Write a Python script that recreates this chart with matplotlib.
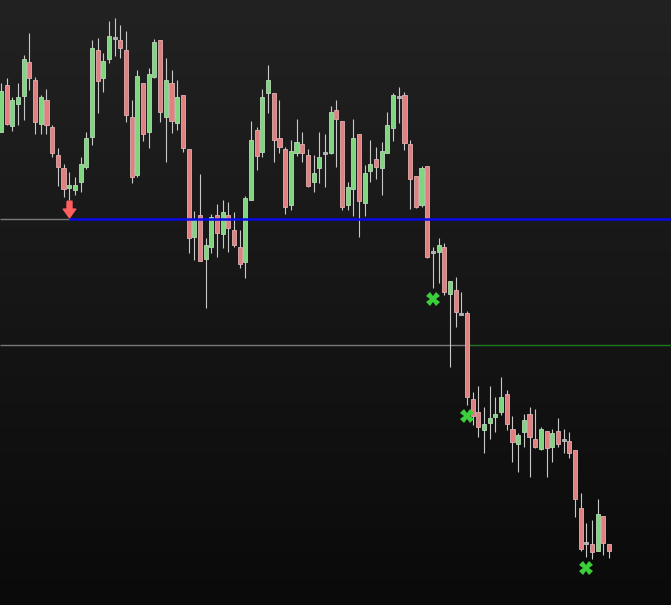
import numpy as np
import matplotlib
matplotlib.use("Agg")
import matplotlib.pyplot as plt

# Velas (open, high, low, close)
opens = [468, 515, 474, 496, 504, 538, 520, 476, 500, 473, 445, 432, 412, 410, 418, 433, 463, 550, 522, 541,
         562, 560, 550, 483, 425, 517, 468, 523, 560, 483, 517, 477, 505, 451, 363, 385, 341, 353, 385, 366,
         385, 370, 353, 338, 400, 470, 448, 507, 507, 462, 451, 395, 447, 456, 445, 418, 432, 447, 447, 490,
         479, 395, 411, 466, 397, 429, 441, 432, 447, 472, 503, 505, 456, 424, 395, 434, 348, 348, 353, 306,
         310, 286, 287, 201, 188, 170, 177, 183, 188, 206, 171, 156, 168, 186, 161, 151, 169, 153, 169, 160,
         159, 150, 92, 57, 56, 49, 84, 56]
highs = [517, 522, 503, 517, 545, 567, 523, 505, 511, 475, 452, 436, 428, 423, 443, 468, 560, 562, 547, 579,
         582, 575, 569, 500, 530, 517, 532, 561, 560, 542, 530, 520, 505, 451, 389, 426, 362, 386, 396, 400,
         398, 388, 370, 404, 479, 473, 511, 535, 507, 500, 453, 460, 481, 468, 451, 445, 468, 466, 494, 500,
         479, 418, 481, 466, 435, 460, 453, 458, 488, 507, 513, 508, 460, 424, 434, 434, 353, 362, 357, 319,
         323, 308, 289, 208, 214, 193, 214, 203, 223, 210, 184, 167, 186, 193, 191, 173, 169, 171, 182, 171,
         168, 150, 107, 77, 80, 101, 84, 56]
lows = [468, 475, 469, 475, 480, 510, 466, 466, 466, 443, 414, 403, 400, 405, 408, 431, 455, 487, 508, 537,
        544, 542, 478, 417, 423, 459, 452, 522, 478, 438, 467, 470, 448, 347, 340, 339, 292, 347, 343, 352,
        348, 353, 332, 322, 400, 430, 443, 487, 438, 447, 386, 390, 444, 438, 413, 408, 417, 413, 446, 433,
        390, 390, 384, 363, 384, 418, 421, 405, 447, 459, 477, 450, 391, 392, 393, 342, 312, 317, 305, 233,
        273, 286, 195, 175, 163, 147, 161, 168, 185, 170, 138, 128, 153, 123, 152, 150, 123, 138, 153, 147,
        142, 83, 49, 43, 41, 49, 45, 42]
closes = [509, 476, 500, 503, 541, 522, 478, 503, 475, 447, 433, 411, 415, 415, 436, 462, 552, 519, 539, 564,
          562, 552, 485, 423, 524, 466, 526, 558, 488, 520, 479, 503, 452, 362, 380, 339, 355, 383, 367, 388,
          372, 355, 336, 402, 460, 444, 503, 520, 460, 453, 393, 449, 458, 447, 414, 427, 443, 447, 488, 481,
          393, 413, 462, 399, 427, 436, 433, 449, 475, 505, 503, 457, 421, 393, 432, 343, 348, 355, 308, 319,
          288, 286, 203, 184, 173, 176, 182, 186, 203, 176, 158, 165, 180, 163, 153, 171, 152, 167, 156, 160,
          147, 101, 51, 57, 48, 86, 57, 49]

# niveis e sinais
level_blue = 381
level_green = 255
blue_start = 12
green_start = 82
arrow_idx = [12]
arrow_price = [391]
cross_idx = [76, 82, 103]
cross_price = [301, 184, 32]

o = np.array(opens)
h = np.array(highs)
l = np.array(lows)
c = np.array(closes)
x = np.arange(len(o))

fig = plt.figure(figsize=(6.71, 6.05), dpi=100)
ax = fig.add_axes([0, 0, 1, 1])
xmin, xmax = -0.18, 117.9
ymin, ymax = -5, 600
ax.set_xlim(xmin, xmax)
ax.set_ylim(ymin, ymax)
ax.axis("off")

# fundo em gradiente
grad = np.linspace(0, 1, 256).reshape(-1, 1)
ax.imshow(grad, extent=(xmin, xmax, ymin, ymax), aspect="auto", origin="lower",
          cmap=matplotlib.colors.LinearSegmentedColormap.from_list("bg", ["#0a0a0a", "#222222"]),
          zorder=0)

# linhas horizontais
ax.hlines(level_blue, xmin, blue_start, color="#7a7a7a", lw=1, zorder=1)
ax.hlines(level_blue, blue_start, xmax, color="#0a0aee", lw=1.8, zorder=4)
ax.hlines(level_green, xmin, green_start - 0.3, color="#7a7a7a", lw=1, zorder=1)
ax.hlines(level_green, green_start - 0.3, xmax, color="#1f7a1f", lw=1, zorder=1)

up = c > o
down = c < o
doji = c == o

ax.vlines(x, l, h, color="#c8c8c8", lw=0.8, zorder=2)

w = 0.72
ax.bar(x[up], (c - o)[up], bottom=o[up], width=w, color="#7fd67f",
       edgecolor="#b5d9b5", lw=0.6, zorder=3)
ax.bar(x[down], (o - c)[down], bottom=c[down], width=w, color="#e08080",
       edgecolor="#e0b0b0", lw=0.6, zorder=3)
ax.bar(x[doji], 2.5, bottom=o[doji] - 1.25, width=w, color="#a8b0a8",
       edgecolor="#c0c0c0", lw=0.6, zorder=3)

# seta vermelha
arrow = [(-0.3, 1), (0.3, 1), (0.3, 0.05), (0.75, 0.05), (0, -1), (-0.75, 0.05), (-0.3, 0.05), (-0.3, 1)]
ax.plot(arrow_idx, arrow_price, marker=arrow, markersize=12, color="#ff5f5f",
        linestyle="none", zorder=5)
ax.plot(cross_idx, cross_price, marker="X", markersize=10, color="#3ccf3c",
        markeredgewidth=0, linestyle="none", zorder=5)

plt.savefig("out.png", dpi=100)
